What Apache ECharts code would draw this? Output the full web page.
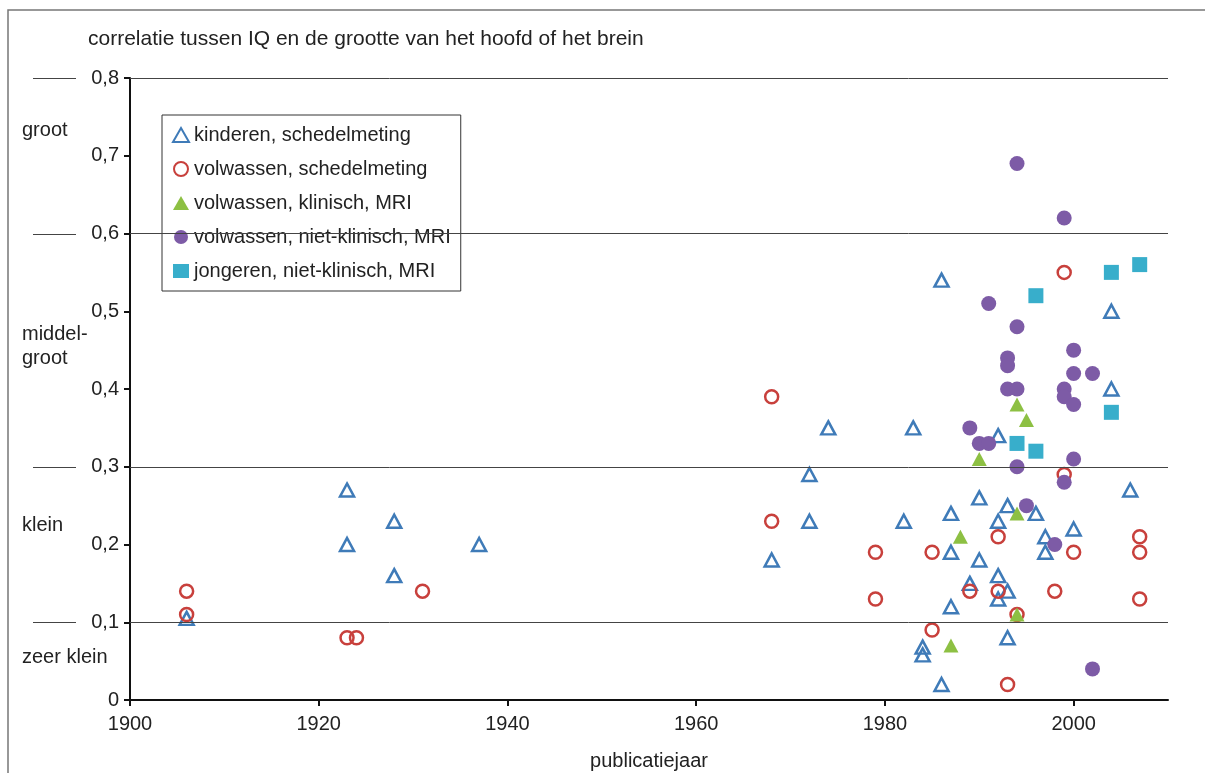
<!DOCTYPE html>
<html>
<head>
<meta charset="utf-8">
<script src="https://cdn.jsdelivr.net/npm/echarts@6/dist/echarts.min.js"></script>
<style>
  html, body { margin: 0; padding: 0; background: #fff; }
  #chart { width: 1205px; height: 773px; }
</style>
</head>
<body>
<div id="chart"></div>
<script>
// [publicatiejaar, correlatie]
const kinderenSchedel = [
  [1906, 0.105], [1923, 0.27], [1923, 0.20], [1928, 0.23], [1928, 0.16], [1937, 0.20],
  [1968, 0.18], [1972, 0.29], [1972, 0.23], [1974, 0.35], [1982, 0.23], [1983, 0.35],
  [1984, 0.068], [1984, 0.058], [1986, 0.02], [1986, 0.54], [1987, 0.24], [1987, 0.19],
  [1987, 0.12], [1989, 0.15], [1990, 0.26], [1990, 0.18], [1992, 0.34], [1992, 0.23],
  [1992, 0.16], [1992, 0.13], [1993, 0.25], [1993, 0.14], [1993, 0.08], [1996, 0.24],
  [1997, 0.21], [1997, 0.19], [2000, 0.22], [2004, 0.50], [2004, 0.40], [2006, 0.27]
];
const volwassenSchedel = [
  [1906, 0.14], [1906, 0.11], [1923, 0.08], [1924, 0.08], [1931, 0.14], [1968, 0.39],
  [1968, 0.23], [1979, 0.19], [1979, 0.13], [1985, 0.19], [1985, 0.09], [1989, 0.14],
  [1992, 0.21], [1992, 0.14], [1993, 0.02], [1994, 0.11], [1998, 0.14], [1999, 0.55],
  [1999, 0.29], [2000, 0.19], [2007, 0.21], [2007, 0.19], [2007, 0.13]
];
const volwassenKlinisch = [
  [1987, 0.07], [1988, 0.21], [1990, 0.31], [1994, 0.38], [1995, 0.36], [1994, 0.24], [1994, 0.11]
];
const volwassenNietKlinisch = [
  [1994, 0.69], [1999, 0.62], [1991, 0.51], [1994, 0.48], [2000, 0.45], [1993, 0.44],
  [1993, 0.43], [2000, 0.42], [2002, 0.42], [1993, 0.40], [1994, 0.40], [1999, 0.40],
  [1999, 0.39], [2000, 0.38], [1989, 0.35], [1990, 0.33], [1991, 0.33], [2000, 0.31],
  [1994, 0.30], [1999, 0.28], [1995, 0.25], [1998, 0.20], [2002, 0.04]
];
const jongerenNietKlinisch = [
  [1996, 0.52], [2004, 0.55], [2007, 0.56], [2004, 0.37], [1994, 0.33], [1996, 0.32]
];

const seriesNames = [
  "kinderen, schedelmeting",
  "volwassen, schedelmeting",
  "volwassen, klinisch, MRI",
  "volwassen, niet-klinisch, MRI",
  "jongeren, niet-klinisch, MRI"
];
const yearTicks = [1900, 1920, 1940, 1960, 1980, 2000];
const gridValues = [0.1, 0.3, 0.6, 0.8];
const sizeLabels = ["groot", "middel-\ngroot", "klein", "zeer klein"];
const sizeLabelValues = [0.733, 0.455, 0.225, 0.055];

const FONT = "Liberation Sans, Arial, sans-serif";
const TEXT = "#222";
const FS = 20;

const chart = echarts.init(document.getElementById("chart"));

chart.setOption({
  animation: false,
  textStyle: {fontFamily: FONT},
  title: {
    text: "correlatie tussen IQ en de grootte van het hoofd of het brein",
    left: 83,
    top: 24,
    textStyle: {fontSize: 21, fontWeight: "normal", color: TEXT, fontFamily: FONT}
  },
  legend: {
    orient: "vertical",
    left: 162,
    top: 115,
    padding: [10, 10, 10, 10],
    itemWidth: 16,
    itemHeight: 14,
    itemGap: 14,
    borderColor: "#333",
    borderWidth: 1,
    backgroundColor: "#fff",
    textStyle: {fontSize: FS, lineHeight: 20, color: TEXT, fontFamily: FONT},
    data: seriesNames
  },
  grid: {left: 130, right: 37, top: 78, bottom: 73, outerBoundsMode: "none"},
  xAxis: {
    type: "value",
    min: 1900,
    max: 2010,
    interval: 20,
    name: "publicatiejaar",
    nameLocation: "middle",
    nameGap: 51,
    nameTextStyle: {fontSize: FS, color: TEXT},
    axisLine: {lineStyle: {color: "#111", width: 2}},
    axisTick: {length: 6, customValues: yearTicks, lineStyle: {color: "#111", width: 2}},
    axisLabel: {fontSize: FS, color: TEXT, margin: 14, customValues: yearTicks, formatter: v => String(v)},
    splitLine: {show: false}
  },
  yAxis: {
    type: "value",
    min: 0,
    max: 0.8,
    interval: 0.1,
    axisLine: {show: true, lineStyle: {color: "#111", width: 2}},
    axisTick: {show: true, length: 6, lineStyle: {color: "#111", width: 2}},
    axisLabel: {
      fontSize: FS, color: TEXT, margin: 11,
      formatter: v => String(Math.round(v * 10) / 10).replace(".", ",")
    },
    splitLine: {show: false}
  },
  series: [
    {
      name: seriesNames[0], type: "scatter", symbol: "triangle", symbolSize: [14, 13],
      itemStyle: {color: "rgba(255,255,255,0)", borderColor: "#3f7bb8", borderWidth: 2.5, opacity: 1},
      data: kinderenSchedel,
      markLine: {
        silent: true, symbol: "none", label: {show: false},
        lineStyle: {color: "#444", width: 1, type: "solid"},
        data: gridValues.map(v => ({yAxis: v}))
      }
    },
    {
      name: seriesNames[1], type: "scatter", symbol: "circle", symbolSize: 13,
      itemStyle: {color: "rgba(255,255,255,0)", borderColor: "#c8403c", borderWidth: 2.5, opacity: 1},
      data: volwassenSchedel
    },
    {
      name: seriesNames[2], type: "scatter", symbol: "triangle", symbolSize: [15, 14],
      itemStyle: {color: "#8dc043", opacity: 1},
      data: volwassenKlinisch
    },
    {
      name: seriesNames[3], type: "scatter", symbol: "circle", symbolSize: 15,
      itemStyle: {color: "#7d5ba6", opacity: 1},
      data: volwassenNietKlinisch
    },
    {
      name: seriesNames[4], type: "scatter", symbol: "rect", symbolSize: 15,
      itemStyle: {color: "#38aecb", opacity: 1},
      data: jongerenNietKlinisch
    }
  ]
});

// decorations: outer frame, grid line stubs left of the axis, size labels
const graphics = [{
  type: "rect", silent: true, z: -1,
  shape: {x: 8, y: 10, width: 1200, height: 780},
  style: {fill: "none", stroke: "#777", lineWidth: 1.5}
}];
gridValues.forEach(v => {
  const y = Math.round(chart.convertToPixel({yAxisIndex: 0}, v)) + 0.5;
  graphics.push({
    type: "line", silent: true,
    shape: {x1: 33, y1: y, x2: 76, y2: y},
    style: {stroke: "#444", lineWidth: 1}
  });
});
sizeLabels.forEach((t, i) => {
  const y = chart.convertToPixel({yAxisIndex: 0}, sizeLabelValues[i]);
  graphics.push({
    type: "text", silent: true, left: 22, top: y - (t.includes("\n") ? 24 : 12),
    style: {text: t, fontSize: FS, fill: TEXT, fontFamily: FONT, lineHeight: 24}
  });
});
chart.setOption({graphic: graphics});
</script>
</body>
</html>
